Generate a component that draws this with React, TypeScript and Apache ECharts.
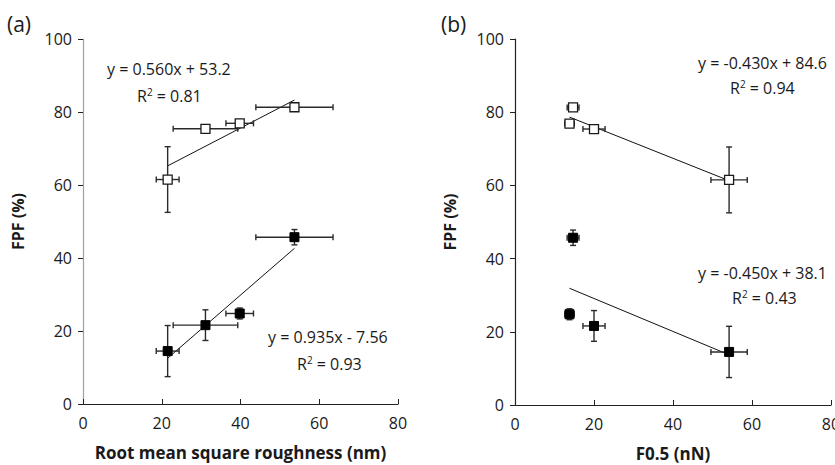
import React, { useEffect, useRef } from "react";
import * as echarts from "echarts";

// Sample values (four surfaces)
const rms = [21.5, 31.1, 39.8, 53.7];
const rmsErr = [2.9, 8.2, 3.5, 9.8];
const f05 = [54.2, 20.0, 13.8, 14.7];
const f05Err = [4.6, 2.8, 1.2, 1.5];
const fpfOpen = [61.5, 75.4, 76.9, 81.3];
const fpfOpenErr = [9.0, 0.8, 1.0, 0.8];
const fpfFilled = [14.5, 21.6, 24.8, 45.7];
const fpfFilledErr = [7.0, 4.2, 1.5, 2.1];

// Linear fits: [slope, intercept, r2]
const fitAOpen = [0.56, 53.2, 0.81];
const fitAFilled = [0.935, -7.56, 0.93];
const fitBOpen = [-0.43, 84.6, 0.94];
const fitBFilled = [-0.45, 38.1, 0.43];

const xTicks = [0, 20, 40, 60, 80];
const yTicks = [0, 20, 40, 60, 80, 100];

const FONT = "'Open Sans', 'Noto Sans', sans-serif";
const INK = "#1a1a1a";
const EQ_SIZE = 16;

function fmtEq(f: number[]) {
  const s = f[0].toFixed(3);
  const b = f[1];
  const sign = b < 0 ? "-" : "+";
  const bs = Math.abs(b).toFixed(Math.abs(b) < 10 ? 2 : 1);
  return `y = ${s}x ${sign} ${bs}`;
}

function fitLine(f: number[], xs: number[]) {
  const lo = Math.min(...xs);
  const hi = Math.max(...xs);
  return [
    [lo, f[0] * lo + f[1]],
    [hi, f[0] * hi + f[1]],
  ];
}

function errData(xs: number[], xe: number[], ys: number[], ye: number[]) {
  return xs.map((x, i) => [x, ys[i], xe[i], ye[i]]);
}

function errRender(params: any, api: any) {
  const x = api.value(0);
  const y = api.value(1);
  const ex = api.value(2);
  const ey = api.value(3);
  const l = api.coord([x - ex, y]);
  const r = api.coord([x + ex, y]);
  const t = api.coord([x, y + ey]);
  const b = api.coord([x, y - ey]);
  const cap = 3;
  const st = { stroke: "#2a2a2a", lineWidth: 1.4 };
  return {
    type: "group",
    children: [
      { type: "line", shape: { x1: l[0], y1: l[1], x2: r[0], y2: r[1] }, style: st },
      { type: "line", shape: { x1: l[0], y1: l[1] - cap, x2: l[0], y2: l[1] + cap }, style: st },
      { type: "line", shape: { x1: r[0], y1: r[1] - cap, x2: r[0], y2: r[1] + cap }, style: st },
      { type: "line", shape: { x1: t[0], y1: t[1], x2: b[0], y2: b[1] }, style: st },
      { type: "line", shape: { x1: t[0] - cap, y1: t[1], x2: t[0] + cap, y2: t[1] }, style: st },
      { type: "line", shape: { x1: b[0] - cap, y1: b[1], x2: b[0] + cap, y2: b[1] }, style: st },
    ],
  };
}

function xAxisCfg(gridIndex: number, name: string) {
  return {
    type: "value",
    gridIndex,
    min: xTicks[0],
    max: xTicks[xTicks.length - 1],
    interval: 20,
    name,
    nameLocation: "middle",
    nameGap: 40,
    nameTextStyle: { fontFamily: FONT, fontSize: 17, fontWeight: "bold", color: INK },
    axisLine: { show: true, lineStyle: { color: "#222", width: 1.2 } },
    axisTick: { show: true, inside: true, length: 5, lineStyle: { color: "#222" } },
    axisLabel: { fontFamily: FONT, fontSize: 16, color: INK, margin: 11 },
    splitLine: { show: false },
  };
}

function yAxisCfg(gridIndex: number, lineColor: string) {
  return {
    type: "value",
    gridIndex,
    min: yTicks[0],
    max: yTicks[yTicks.length - 1],
    interval: 20,
    name: "FPF (%)",
    nameLocation: "middle",
    nameGap: 57,
    nameTextStyle: { fontFamily: FONT, fontSize: 16, fontWeight: "bold", color: INK },
    axisLine: { show: true, lineStyle: { color: lineColor, width: 1.2 } },
    axisTick: { show: true, inside: false, length: 5, lineStyle: { color: "#222" } },
    axisLabel: { fontFamily: FONT, fontSize: 16, color: INK, margin: 11 },
    splitLine: { show: false },
  };
}

export default function App() {
  const ref = useRef<HTMLDivElement>(null);
  useEffect(() => {
    if (!ref.current) return;
    const chart = echarts.init(ref.current, null, { renderer: "svg" });
    const openStyle = { color: "#ffffff", borderColor: "#1a1a1a", borderWidth: 1.3, opacity: 1 };
    const filledStyle = { color: "#000000", borderColor: "#000000", borderWidth: 1, opacity: 1 };
    const r2Rich = {
      sup: { fontSize: 10, verticalAlign: "top", padding: [0, 0, 9, 0], fontFamily: FONT, color: INK },
    };
    const r2 = (f: number[]) => `R{sup|2} = ${f[2].toFixed(2)}`;
    const eq = (x: number, cy: number, text: string, rich?: boolean) => ({
      type: "text",
      x,
      y: cy,
      style: {
        text,
        font: `${EQ_SIZE}px ${FONT}`,
        fill: INK,
        verticalAlign: "middle",
        ...(rich ? { rich: r2Rich } : {}),
      },
    });
    chart.setOption({
      animation: false,
      backgroundColor: "#ffffff",
      grid: [
        { left: 83, top: 39, width: 315, height: 365, outerBoundsMode: "none", containLabel: false },
        { left: 515, top: 39, width: 316, height: 366, outerBoundsMode: "none", containLabel: false },
      ],
      xAxis: [xAxisCfg(0, "Root mean square roughness (nm)"), xAxisCfg(1, "F0.5 (nN)")],
      yAxis: [yAxisCfg(0, "#a0a0a0"), yAxisCfg(1, "#222")],
      series: [
        // panel (a)
        {
          type: "line", xAxisIndex: 0, yAxisIndex: 0, data: fitLine(fitAOpen, rms),
          symbol: "none", lineStyle: { color: "#111", width: 1 }, z: 2,
        },
        {
          type: "line", xAxisIndex: 0, yAxisIndex: 0, data: fitLine(fitAFilled, rms),
          symbol: "none", lineStyle: { color: "#111", width: 1 }, z: 2,
        },
        {
          type: "custom", xAxisIndex: 0, yAxisIndex: 0, renderItem: errRender,
          data: errData(rms, rmsErr, fpfOpen, fpfOpenErr), z: 3,
        },
        {
          type: "custom", xAxisIndex: 0, yAxisIndex: 0, renderItem: errRender,
          data: errData(rms, rmsErr, fpfFilled, fpfFilledErr), z: 3,
        },
        {
          type: "scatter", xAxisIndex: 0, yAxisIndex: 0, symbol: "rect", symbolSize: 9,
          data: rms.map((x, i) => [x, fpfOpen[i]]), itemStyle: openStyle, z: 4,
        },
        {
          type: "scatter", xAxisIndex: 0, yAxisIndex: 0, symbol: "rect", symbolSize: 9,
          data: rms.map((x, i) => [x, fpfFilled[i]]), itemStyle: filledStyle, z: 4,
        },
        // panel (b)
        {
          type: "line", xAxisIndex: 1, yAxisIndex: 1, data: fitLine(fitBOpen, f05),
          symbol: "none", lineStyle: { color: "#111", width: 1 }, z: 2,
        },
        {
          type: "line", xAxisIndex: 1, yAxisIndex: 1, data: fitLine(fitBFilled, f05),
          symbol: "none", lineStyle: { color: "#111", width: 1 }, z: 2,
        },
        {
          type: "custom", xAxisIndex: 1, yAxisIndex: 1, renderItem: errRender,
          data: errData(f05, f05Err, fpfOpen, fpfOpenErr), z: 3,
        },
        {
          type: "custom", xAxisIndex: 1, yAxisIndex: 1, renderItem: errRender,
          data: errData(f05, f05Err, fpfFilled, fpfFilledErr), z: 3,
        },
        {
          type: "scatter", xAxisIndex: 1, yAxisIndex: 1, symbol: "rect", symbolSize: 9,
          data: f05.map((x, i) => [x, fpfOpen[i]]), itemStyle: openStyle, z: 4,
        },
        {
          type: "scatter", xAxisIndex: 1, yAxisIndex: 1, symbol: "rect", symbolSize: 9,
          data: f05.map((x, i) => [x, fpfFilled[i]]), itemStyle: filledStyle, z: 4,
        },
      ],
      graphic: [
        { type: "text", x: 7, y: 24, style: { text: "(a)", font: `21px ${FONT}`, fill: INK, verticalAlign: "middle" } },
        { type: "text", x: 441, y: 24, style: { text: "(b)", font: `21px ${FONT}`, fill: INK, verticalAlign: "middle" } },
        eq(107, 69, fmtEq(fitAOpen)),
        eq(137, 96, r2(fitAOpen), true),
        eq(268, 337, fmtEq(fitAFilled)),
        eq(297, 364, r2(fitAFilled), true),
        eq(698, 63, fmtEq(fitBOpen)),
        eq(730, 88, r2(fitBOpen), true),
        eq(698, 273, fmtEq(fitBFilled)),
        eq(732, 298, r2(fitBFilled), true),
      ],
    });
    return () => chart.dispose();
  }, []);
  return <div ref={ref} style={{ width: 835, height: 465, position: "absolute", left: 0, top: 0 }} />;
}
